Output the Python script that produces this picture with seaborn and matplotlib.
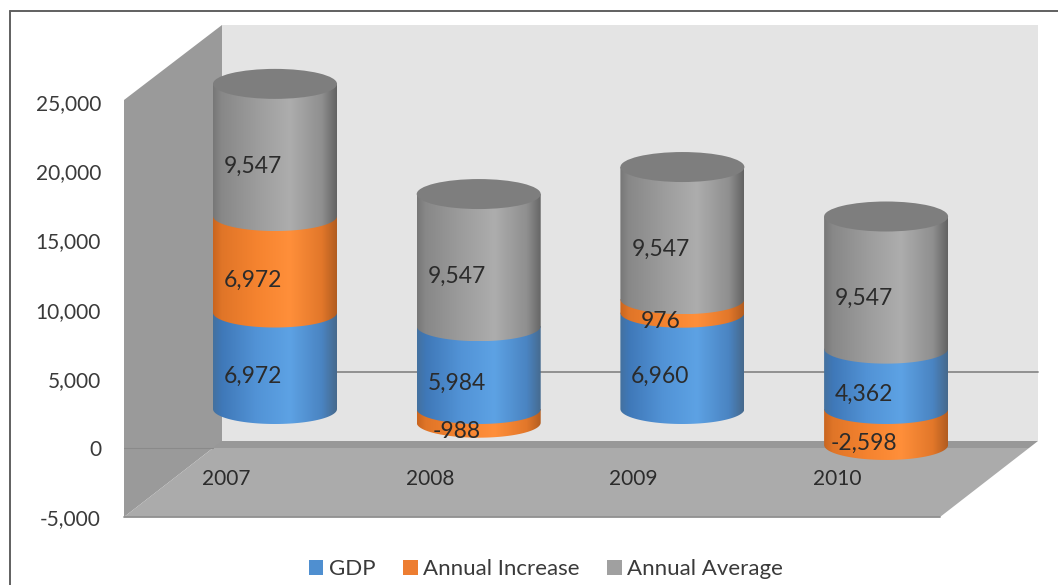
import numpy as np
import matplotlib
matplotlib.use("Agg")
import matplotlib.pyplot as plt
import seaborn as sns
from matplotlib.lines import Line2D
from matplotlib.patches import Ellipse, Patch, Polygon
from matplotlib.path import Path

years = ["2007", "2008", "2009", "2010"]
gdp = [6972, 5984, 6960, 4362]
annual_increase = [6972, -988, 976, -2598]
annual_average = [9547, 9547, 9547, 9547]
y_ticks = [-5000, 0, 5000, 10000, 15000, 20000, 25000]
series_names = ["GDP", "Annual Increase", "Annual Average"]

W, H = 1058, 585
PX_PER_UNIT = 0.01384
BASE_PX = 409
X0_PX, STEP_PX = 275, 203.7
ELL_PX = 15
FONT = "Lato"
TXT = "#3a3a3a"

STOPS = [0, 0.07, 0.35, 0.62, 0.88, 1]
GRADS = {
    "GDP": ["#44719f", "#3f78b8", "#5293d6", "#5da2e4", "#4a84c2", "#46698c"],
    "Annual Increase": ["#c9651f", "#e07528", "#f5832f", "#ff8f3a", "#e2772a", "#b15c20"],
    "Annual Average": ["#777777", "#888888", "#9c9c9c", "#adadad", "#8f8f8f", "#636363"],
}
FLAT = {"GDP": "#4f8fd0", "Annual Increase": "#ed7d31", "Annual Average": "#a0a0a0"}

sns.set_theme(style="white")
plt.rcParams["font.family"] = [FONT, "DejaVu Sans"]

fig = plt.figure(figsize=(W / 100, H / 100), dpi=100, facecolor="white")
ax = fig.add_axes([0, 0, 1, 1])
ax.patch.set_alpha(0)


def fpx(points):
    return [(x / W, 1 - y / H) for x, y in points]


def wall(points, color, z):
    fig.add_artist(Polygon(fpx(points), closed=True, transform=fig.transFigure,
                           facecolor=color, edgecolor="none", zorder=z))


def rule(points, color, lw):
    xs, ys = zip(*fpx(points))
    fig.add_artist(Line2D(xs, ys, transform=fig.transFigure, color=color, lw=lw))


# chart frame and 3D box (drawn behind the transparent axes)
ax.set_zorder(5)
wall([(222, 25), (1038, 25), (1038, 441), (222, 441)], "#e4e4e4", -5)
wall([(213, 441), (1038, 441), (1029, 448), (213, 448)], "#989898", -4)
wall([(124, 100), (222, 25), (222, 441), (124, 517)], "#9a9a9a", -4)
wall([(124, 517), (213, 448), (1029, 448), (940, 517)], "#ababab", -3)
rule([(222, 372), (1038, 372)], "#8a8a8a", 1.3)
rule([(124, 517), (940, 517)], "#909090", 1.3)
rule([(124, 448), (213, 448)], "#8a8a8a", 0.8)
rule([(10, 11), (1058, 11)], "#606060", 1.4)
rule([(10, 11), (10, 585)], "#606060", 1.4)

# stacked bars through seaborn
g = np.array(gdp, float)
inc = np.array(annual_increase, float)
avg = np.array(annual_average, float)
bottoms = {
    "GDP": np.zeros(4),
    "Annual Increase": np.where(inc >= 0, g, 0.0),
    "Annual Average": g + np.clip(inc, 0, None),
}
values = {"GDP": g, "Annual Increase": inc, "Annual Average": avg}

bar_width = 124 / STEP_PX
segments = []
for name in series_names:
    n0 = len(ax.patches)
    sns.barplot(x=years, y=values[name], bottom=bottoms[name], order=years,
                color=FLAT[name], saturation=1, width=bar_width, errorbar=None, ax=ax)
    for i, p in enumerate(ax.patches[n0:]):
        p.set_edgecolor("none")
        p.set_visible(False)
        lo = min(p.get_y(), p.get_y() + p.get_height())
        hi = max(p.get_y(), p.get_y() + p.get_height())
        segments.append((lo, hi, p.get_x(), p.get_width(), name, i, values[name][i]))

ell_h = ELL_PX / PX_PER_UNIT
ramp_x = np.linspace(0, 1, 256)


def ramp(name):
    rgb = np.array([matplotlib.colors.to_rgb(c) for c in GRADS[name]])
    return np.stack([np.interp(ramp_x, STOPS, rgb[:, k]) for k in range(3)], axis=1)[None, :, :]


segments.sort(key=lambda s: s[0])
for z, (lo, hi, x, w, name, i, val) in enumerate(segments):
    t = np.linspace(0, np.pi, 60)
    arc = np.column_stack([x + w / 2 + w / 2 * np.cos(t), lo - ell_h * np.sin(t)])
    verts = np.vstack([[(x, hi)], [(x + w, hi)], arc, [(x, hi)]])
    im = ax.imshow(ramp(name), extent=(x, x + w, lo - ell_h, hi), aspect="auto",
                   interpolation="bilinear", zorder=3 + z)
    im.set_clip_path(Path(verts), transform=ax.transData)
    mid = (lo + hi) / 2
    ax.annotate(f"{val:,.0f}", (x + w / 2, mid), xytext=(-22, -16), textcoords="offset pixels",
                ha="center", va="center", fontsize=16.5, color="#2b2b2b", zorder=40)
    if name == "Annual Average":
        ax.add_patch(Ellipse((x + w / 2, hi), w, 2 * ell_h, facecolor="#7e7e7e",
                             edgecolor="none", zorder=30))

# scales: one category = STEP_PX pixels, full-figure axes
ax.set_xlim(-X0_PX / STEP_PX, (W - X0_PX) / STEP_PX)
ax.set_ylim((BASE_PX - H) / PX_PER_UNIT, BASE_PX / PX_PER_UNIT)
ax.tick_params(left=False, bottom=False, labelleft=False, labelbottom=False)
ax.set_xlabel("")
ax.set_ylabel("")
for s in ax.spines.values():
    s.set_visible(False)

# value axis sits on the front plane of the box
off = 39 / PX_PER_UNIT
sec_y = ax.secondary_yaxis(101 / W, functions=(lambda u: u + off, lambda v: v - off))
sec_y.set_yticks(y_ticks)
sec_y.set_yticklabels([f"{v:,}" for v in y_ticks], fontsize=15, color=TXT)
sec_y.tick_params(length=0, pad=0)
sec_y.spines["left"].set_visible(False)
sec_y.spines["right"].set_visible(False)

# category axis on the floor of the box
shift = 49 / STEP_PX
sec_x = ax.secondary_xaxis(1 - 469 / H, functions=(lambda a: a + shift, lambda b: b - shift))
sec_x.set_xticks(range(len(years)))
sec_x.set_xticklabels(years, fontsize=15, color="#2b2b2b")
sec_x.tick_params(length=0, pad=0)
sec_x.spines["bottom"].set_visible(False)
sec_x.spines["top"].set_visible(False)

handles = [Patch(facecolor=FLAT[n], edgecolor="none", label=n) for n in series_names]
fig.legend(handles=handles, loc="center", bbox_to_anchor=(546 / W, 1 - 569 / H), ncol=3,
           frameon=False, fontsize=16, handlelength=0.65, handleheight=0.65,
           handletextpad=0.25, columnspacing=1.25, labelcolor=TXT)

fig.savefig("out.png", dpi=100, facecolor="white")
